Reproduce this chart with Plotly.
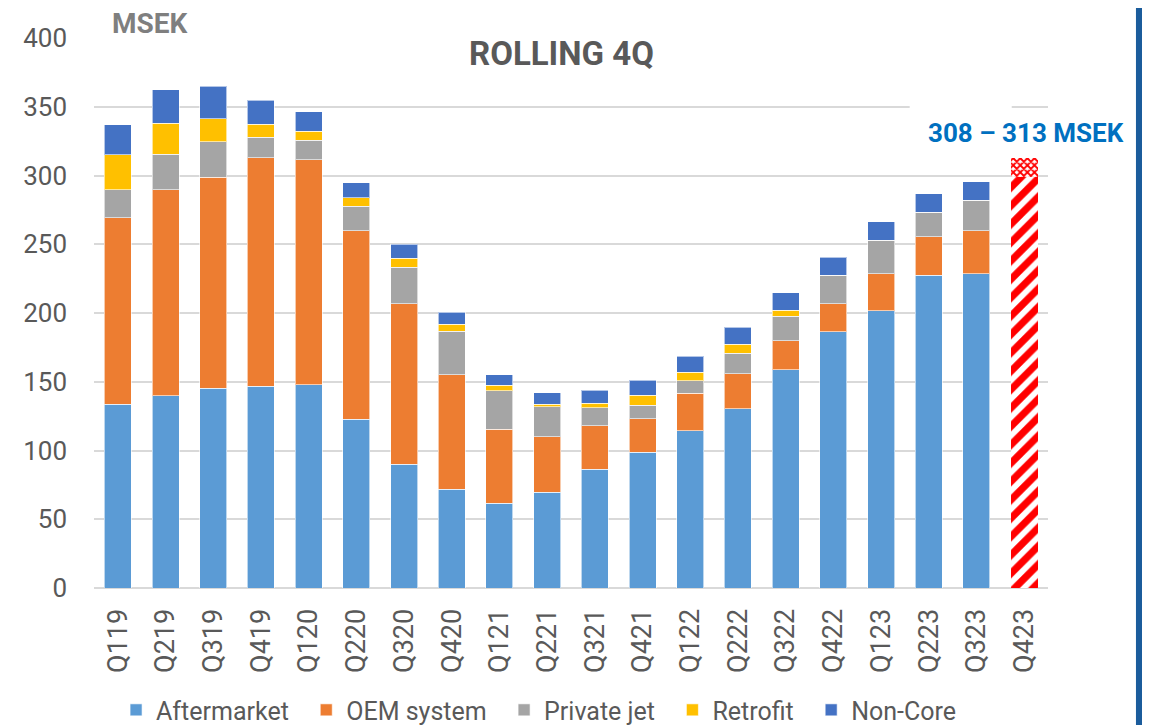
import plotly.graph_objects as go

# rolling 4Q sales per segment (MSEK)
quarters = ["Q119", "Q219", "Q319", "Q419", "Q120", "Q220", "Q320", "Q420",
            "Q121", "Q221", "Q321", "Q421", "Q122", "Q222", "Q322", "Q422",
            "Q123", "Q223", "Q323", "Q423"]
actual_q = quarters[:-1]

aftermarket = [133.7, 140.0, 145.1, 146.6, 148.0, 122.6, 90.1, 71.7, 61.5, 69.5,
               86.5, 98.6, 114.3, 130.3, 158.7, 186.5, 201.8, 227.3, 228.4]
oem_system = [135.4, 149.5, 153.6, 166.4, 163.3, 137.4, 116.5, 83.3, 53.8, 40.5,
              31.5, 24.4, 27.2, 25.4, 21.3, 20.1, 26.6, 28.3, 31.3]
private_jet = [20.4, 26.1, 25.8, 14.8, 14.5, 17.8, 26.7, 31.8, 28.1, 21.8,
               13.0, 9.8, 9.2, 15.1, 17.5, 20.9, 24.5, 17.7, 22.3]
retrofit = [25.7, 22.3, 16.6, 9.6, 6.3, 6.1, 6.5, 5.1, 3.9, 1.9,
            3.4, 7.5, 6.3, 6.5, 4.5, 0, 0, 0, 0]
non_core = [21.8, 24.5, 23.7, 17.3, 14.1, 10.9, 10.2, 8.7, 7.7, 8.2,
            9.5, 10.9, 11.6, 12.4, 12.6, 13.1, 13.6, 13.5, 13.3]

# Q423 outlook bar
outlook_q = ["Q423"]
outlook_low = [299]
outlook_range = [14]

pad = "\u00a0\u00a0"   # a bit more room between legend entries
series = [
    ("Aftermarket" + pad, aftermarket, "#5B9BD5"),
    ("OEM system" + pad, oem_system, "#ED7D31"),
    ("Private jet" + pad, private_jet, "#A5A5A5"),
    ("Retrofit" + pad, retrofit, "#FFC000"),
    ("Non-Core", non_core, "#4472C4"),
]

fig = go.Figure()

for name, vals, col in series:
    fig.add_trace(go.Bar(x=actual_q, y=vals, name=name,
                         marker=dict(color=col, line=dict(color="rgba(255,255,255,0.6)", width=1))))

fig.add_trace(go.Bar(x=outlook_q, y=outlook_low, showlegend=False, hoverinfo="skip",
                     marker=dict(color="white", line=dict(width=0),
                                 pattern=dict(shape="/", fgcolor="#FF0000", bgcolor="white",
                                              fgopacity=1, size=13, solidity=0.55))))
fig.add_trace(go.Bar(x=outlook_q, y=outlook_range, showlegend=False, hoverinfo="skip",
                     marker=dict(color="white", line=dict(width=0),
                                 pattern=dict(shape="x", fgcolor="#FF0000", bgcolor="white",
                                              fgopacity=1, size=5, solidity=0.6))))

# page body adds an 8px offset, so the figure is a bit smaller than the window
fig.update_layout(
    width=1142, height=717,
    barmode="stack", bargap=0.434,
    plot_bgcolor="white", paper_bgcolor="white",
    font=dict(family="Roboto", color="#595959"),
    margin=dict(l=86, r=102, t=30, b=137, autoexpand=False),
    legend=dict(orientation="h", x=0.466, xanchor="center", y=-0.222, yanchor="middle",
                font=dict(size=25, color="#595959"), traceorder="normal",
                itemwidth=30),
)

fig.update_xaxes(categoryorder="array", categoryarray=quarters, tickangle=-90,
                 tickfont=dict(size=27, color="#595959"), showline=False,
                 ticks="outside", ticklen=9, tickcolor="white", automargin=False)
fig.update_yaxes(range=[0, 400], dtick=50, showgrid=True, gridcolor="#D9D9D9", gridwidth=2,
                 zeroline=True, zerolinecolor="#D9D9D9", zerolinewidth=2, automargin=False,
                 tickfont=dict(size=26, color="#595959"), ticklabelstandoff=26)

# cover the gridlines behind the labels
fig.add_shape(type="rect", xref="paper", yref="y", x0=-0.01, x1=0.0965, y0=396, y1=404,
              fillcolor="white", line_width=0, layer="above")
fig.add_shape(type="rect", xref="paper", yref="y", x0=0.855, x1=0.962, y0=346, y1=354,
              fillcolor="white", line_width=0, layer="above")

fig.add_annotation(text="<b>MSEK</b>", xref="paper", yref="paper", x=0.0165, y=1.027,
                   xanchor="left", yanchor="middle", showarrow=False,
                   font=dict(size=28, color="#7F7F7F"))
fig.add_annotation(text="<b>ROLLING 4Q</b>", xref="paper", yref="paper", x=0.49, y=0.971,
                   xanchor="center", yanchor="middle", showarrow=False,
                   font=dict(size=33, color="#595959"))
fig.add_annotation(text="<b>308 – 313 MSEK</b>", xref="paper", yref="paper", x=0.977, y=0.828,
                   xanchor="center", yanchor="middle", showarrow=False,
                   font=dict(size=26, color="#0070C0"))

# blue border on the right edge (the page clips a few px before the window edge)
fig.add_shape(type="rect", xref="paper", yref="paper", x0=1.0922, x1=1.2, y0=-0.3, y1=1.1,
              fillcolor="#1B5C9C", line_width=0, layer="above")

fig.write_html("out.html")
